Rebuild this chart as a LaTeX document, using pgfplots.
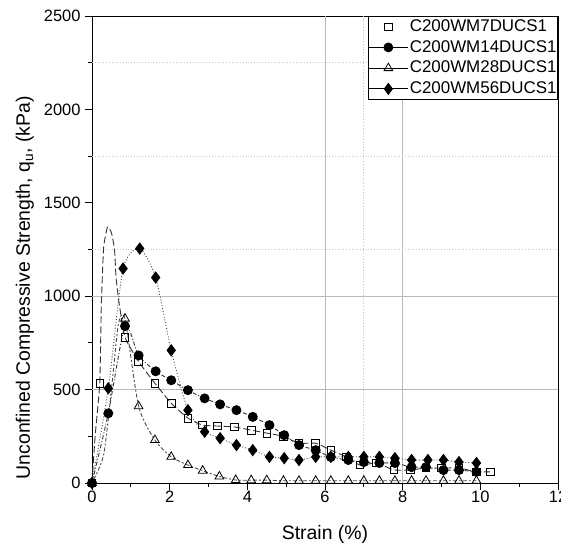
\documentclass[border=0pt]{standalone}
\usepackage{pgfplots}
\pgfplotsset{compat=1.18}
\usepackage{fontspec}
\setmainfont{Liberation Sans}
\begin{document}
\begin{tikzpicture}
\begin{axis}[
  scale only axis, width=466bp, height=467bp,
  xmin=0, xmax=12, ymin=0, ymax=2500,
  xtick={0,2,...,12}, ytick={0,500,...,2500},
  minor x tick num=1, minor y tick num=1,
  tick align=outside, tick pos=left,
  major tick length=7bp, minor tick length=4bp,
  every tick/.style={black, line width=0.8bp},
  axis line style={line width=0.9bp},
  /pgf/number format/assume math mode=true,
  /pgf/number format/1000 sep={},
  tick label style={font=\fontsize{16.5}{19}\selectfont},
  xticklabel style={yshift=2bp},
  yticklabel style={xshift=-1bp},
  xlabel={Strain (\%)},
  ylabel={Unconfined Compressive Strength, q\textsubscript{u}, (kPa)},
  every axis y label/.style={at={(axis description cs:-0.144,0.418)},rotate=90,anchor=center,font=\fontsize{19.5}{22}\selectfont},
  every axis x label/.style={at={(axis description cs:0.5,-0.111)},anchor=center,font=\fontsize{19.5}{22}\selectfont},
  legend style={at={(rel axis cs:1,1)}, anchor=north east, draw=black, line width=0.8bp,
    font=\fontsize{17}{20}\selectfont, inner sep=0pt,
    nodes={inner xsep=1bp, inner ysep=2bp, text height=13bp, text depth=3.7bp},
    cells={anchor=west}},
  legend image code/.code={\draw[mark repeat=2,mark phase=2,#1] plot coordinates {(0bp,0bp) (20bp,0bp) (40bp,0bp)};},
]
\coordinate (sw) at (rel axis cs:0,0);
\coordinate (ne) at (rel axis cs:1,1);
% partial grid as in the original
\draw[gray!55, line width=0.8bp] (axis cs:0,500) -- (axis cs:12,500);
\draw[gray!55, line width=0.8bp] (axis cs:0,1000) -- (axis cs:12,1000);
\draw[gray!45, dotted, line width=0.8bp] (axis cs:0,1250) -- (axis cs:12,1250);
\draw[gray!45, dotted, line width=0.8bp] (axis cs:0,1750) -- (axis cs:12,1750);
\draw[gray!45, dotted, line width=0.8bp] (axis cs:0,2250) -- (axis cs:12,2250);
\draw[gray!55, line width=0.8bp] (axis cs:6,0) -- (axis cs:6,2500);
\draw[gray!55, line width=0.8bp] (axis cs:8,0) -- (axis cs:8,2500);
\draw[gray!45, dotted, line width=0.8bp] (axis cs:7,0) -- (axis cs:7,2500);

% C200WM7DUCS1
\addplot[forget plot, smooth, tension=0.3, draw=gray!40!black, line width=0.9bp, dash pattern=on 7bp off 3bp,
  mark=square, mark size=3.8bp, mark options={solid, black, fill=white, line width=0.8bp},
  mark indices={1,3,11,12,13,14,15,16,17,18,19,20,21,22,23,24,25,26,27,28,29,30,31,32,33,34}]
coordinates {
(0,0) (0.08,250) (0.2,534) (0.24,950) (0.3,1260) (0.4,1370) (0.5,1340) (0.58,1250)
(0.62,1100) (0.7,960) (0.85,780) (1.2,650) (1.62,534) (2.04,427) (2.47,347) (2.85,310)
(3.23,305) (3.67,300) (4.1,283) (4.5,267) (4.93,250) (5.33,213) (5.76,213) (6.15,176)
(6.55,140) (6.9,96) (7.33,107) (7.77,70) (8.2,70) (8.6,80) (9.0,80) (9.45,80) (9.9,60) (10.26,60)
};
% C200WM14DUCS1
\addplot[forget plot, smooth, tension=0.4, draw=gray!40!black, line width=0.9bp, dash pattern=on 4bp off 2bp on 1bp off 2bp,
  mark=*, mark size=4.5bp, mark options={solid, black}]
coordinates {
(0,0) (0.42,373) (0.85,840) (1.2,683) (1.64,598) (2.04,550) (2.47,497) (2.9,453) (3.3,421)
(3.72,390) (4.14,354) (4.57,310) (4.95,256) (5.33,203) (5.76,176) (6.15,139) (6.6,123)
(7.0,112) (7.4,107) (7.8,107) (8.23,85) (8.6,85) (9.05,69) (9.45,69) (9.9,60)
};
% C200WM28DUCS1
\addplot[forget plot, smooth, tension=0.4, draw=gray!60!black, line width=0.9bp, dash pattern=on 2bp off 2bp on 4bp off 2bp,
  mark=triangle, mark size=5bp, mark options={solid, black, fill=white, line width=0.8bp},
  mark indices={1,5,6,7,8,9,10,11,12,13,14,15,16,17,18,19,20,21,22,23,24,25,26,27}]
coordinates {
(0,0) (0.3,150) (0.5,500) (0.68,850) (0.85,880) (1.2,411) (1.62,230) (2.04,140) (2.47,96)
(2.85,66) (3.28,35) (3.7,16) (4.1,15) (4.5,15) (4.93,12) (5.33,12) (5.76,12) (6.15,12)
(6.6,12) (7.0,12) (7.4,12) (7.8,12) (8.23,12) (8.6,12) (9.05,12) (9.45,12) (9.9,12)
};
% C200WM56DUCS1
\addplot[forget plot, smooth, tension=0.4, draw=gray!50!black, line width=0.9bp, dotted,
  mark=diamond*, mark size=5.5bp, mark options={solid, black}]
coordinates {
(0,0) (0.42,507) (0.8,1148) (1.23,1255) (1.64,1100) (2.04,710) (2.47,390) (2.9,274) (3.3,240)
(3.72,203) (4.14,176) (4.57,140) (4.95,133) (5.33,123) (5.76,140) (6.15,140) (6.6,140)
(7.0,140) (7.4,140) (7.8,133) (8.23,123) (8.65,123) (9.05,123) (9.45,112) (9.9,107)
};

\addlegendimage{only marks, mark=square, mark size=3.8bp, mark options={black, fill=white, line width=0.8bp}}
\addlegendentry{C200WM7DUCS1}
\addlegendimage{black, line width=0.8bp, mark=*, mark size=4.5bp}
\addlegendentry{C200WM14DUCS1}
\addlegendimage{black, line width=0.8bp, mark=triangle, mark size=5bp, mark options={fill=white}}
\addlegendentry{C200WM28DUCS1}
\addlegendimage{black, line width=0.8bp, mark=diamond*, mark size=5.5bp}
\addlegendentry{C200WM56DUCS1}
\end{axis}
\pgfresetboundingbox
\path[use as bounding box] ([xshift=-92bp,yshift=-62bp]sw) rectangle ([xshift=3bp,yshift=16bp]ne);
\end{tikzpicture}
\end{document}
